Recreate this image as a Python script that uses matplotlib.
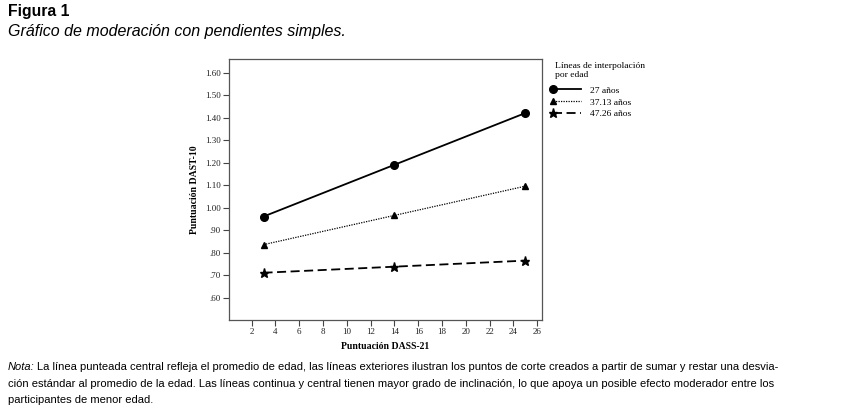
import numpy as np
import matplotlib
matplotlib.use('Agg')
import matplotlib.pyplot as plt
from matplotlib.legend_handler import HandlerLine2DCompound

# valores
dass = [3, 14, 25]
edad_labels = ['27 años', '37.13 años', '47.26 años']
dast_27 = [0.96, 1.19, 1.42]
dast_37 = [0.835, 0.965, 1.095]
dast_47 = [0.71, 0.737, 0.764]
yticks = [0.6, 0.7, 0.8, 0.9, 1.0, 1.1, 1.2, 1.3, 1.4, 1.5, 1.6]
xticks = list(range(2, 27, 2))

serif = 'Liberation Serif'
sans = 'Liberation Sans'


class LeftMarker(HandlerLine2DCompound):
    # marcador en el extremo izquierdo del trazo, como en SPSS
    def get_xdata(self, legend, xdescent, ydescent, width, height, fontsize):
        xdata, _ = super().get_xdata(legend, xdescent, ydescent, width, height, fontsize)
        return xdata, [xdata[0]]


fig = plt.figure(figsize=(8.61, 4.09), dpi=100)
ax = fig.add_axes([0.266, 0.2176, 0.3635, 0.638])

l1, = ax.plot(dass, dast_27, color='black', lw=1.3, ls='-', marker='o', ms=5.5)
l2, = ax.plot(dass, dast_37, color='black', lw=0.9, ls=(0, (1, 1)), marker='^', ms=4.5)
l3, = ax.plot(dass, dast_47, color='black', lw=1.3, ls=(0, (5, 2.5)), marker='*', ms=6.5)

ax.set_xlim(0.1, 26.4)
ax.set_ylim(0.50, 1.66)
ax.set_xticks(xticks)
ax.set_xticklabels([str(t) for t in xticks], fontfamily=serif, fontsize=6.5, color='#222222')
ax.set_yticks(yticks)
ax.set_yticklabels(['%.2f' % t if t >= 1 else ('%.2f' % t)[1:] for t in yticks],
                   fontfamily=serif, fontsize=6.5, color='#222222')
ax.tick_params(direction='out', length=4, width=0.8, color='#444444', pad=2)
for s in ax.spines.values():
    s.set_color('#555555')
    s.set_linewidth(0.9)

ax.set_xlabel('Puntuación DASS-21', fontfamily=serif, fontsize=7, fontweight='bold', labelpad=4)
ax.set_ylabel('Puntuación DAST-10', fontfamily=serif, fontsize=7, fontweight='bold', labelpad=4)

# titulo de la leyenda aparte, para dejar el hueco de SPSS
fig.text(555 / 861, 1 - 62 / 409, 'Líneas de interpolación\npor edad', fontfamily=serif,
         fontsize=6.8, va='top', ha='left', linespacing=1.1)
leg = fig.legend([l1, l2, l3], edad_labels, loc='upper left',
                 bbox_to_anchor=(553 / 861, 1 - 86 / 409),
                 frameon=False, prop={'family': serif, 'size': 6.8}, handlelength=3.0,
                 handletextpad=0.9, labelspacing=0.35, borderaxespad=0, borderpad=0,
                 handler_map={l1: LeftMarker(), l2: LeftMarker(), l3: LeftMarker()})

fig.text(0.009, 0.972, 'Figura 1', fontfamily=sans, fontsize=11.3, fontweight='bold', va='center')
fig.text(0.009, 0.922, 'Gráfico de moderación con pendientes simples.', fontfamily=sans,
         fontsize=11.5, fontstyle='italic', va='center')

nota = ('La línea punteada central refleja el promedio de edad, las líneas exteriores ilustran '
        'los puntos de corte creados a partir de sumar y restar una desvia-')
linea2 = ('ción estándar al promedio de la edad. Las líneas continua y central tienen mayor grado '
          'de inclinación, lo que apoya un posible efecto moderador entre los')
linea3 = 'participantes de menor edad.'
t = fig.text(0.009, 0.103, 'Nota:', fontfamily=sans, fontsize=8, fontstyle='italic', va='center')
fig.canvas.draw()
bb = t.get_window_extent()
x2 = (bb.x1 + 3) / fig.bbox.width
fig.text(x2, 0.103, nota, fontfamily=sans, fontsize=8, va='center')
fig.text(0.009, 0.062, linea2, fontfamily=sans, fontsize=8, va='center')
fig.text(0.009, 0.023, linea3, fontfamily=sans, fontsize=8, va='center')

fig.savefig('out.png', dpi=100)
